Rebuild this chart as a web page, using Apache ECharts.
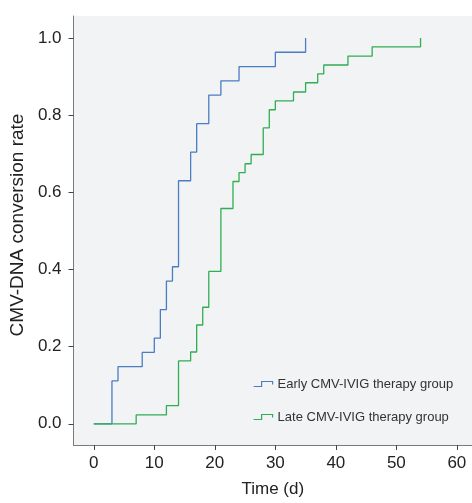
<!DOCTYPE html>
<html>
<head>
<meta charset="utf-8">
<script src="https://cdn.jsdelivr.net/npm/echarts@6/dist/echarts.min.js"></script>
<style>
  html, body { margin: 0; padding: 0; background: #fff; }
  #chart { width: 472px; height: 503px; }
</style>
</head>
<body>
<div id="chart"></div>
<script>
// step points (time in days, conversion rate)
const earlyTime = [0, 3, 4, 8, 10, 11, 12, 13, 14, 16, 17, 19, 21, 24, 30, 35];
const earlyRate = [0, 0.111, 0.148, 0.185, 0.222, 0.296, 0.370, 0.407, 0.630, 0.704, 0.778, 0.852, 0.889, 0.926, 0.963, 1.0];

const lateTime = [0, 7, 12, 14, 16, 17, 18, 19, 21, 23, 24, 25, 26, 28, 29, 30, 33, 35, 37, 38, 42, 46, 54];
const lateRate = [0, 0.023, 0.047, 0.163, 0.186, 0.256, 0.302, 0.395, 0.558, 0.628, 0.651, 0.674, 0.698, 0.767, 0.814, 0.837, 0.860, 0.884, 0.907, 0.930, 0.953, 0.977, 1.0];

const xTicks = [0, 10, 20, 30, 40, 50, 60];
const yTicks = [0, 0.2, 0.4, 0.6, 0.8, 1.0];

const seriesNames = ['Early CMV-IVIG therapy group', 'Late CMV-IVIG therapy group'];

const blue = '#4a7dc2';
const green = '#2fae52';

const chart = echarts.init(document.getElementById('chart'));

const stepIcon = 'path://M0,5 L8,5 L8,0 L19,0 L19,3';

const option = {
  animation: false,
  textStyle: { fontFamily: 'Liberation Sans, Arial, sans-serif' },
  grid: {
    left: 72, right: 0, top: 16, bottom: 53,
    show: true,
    backgroundColor: '#f2f3f5',
    borderWidth: 0
  },
  legend: {
    orient: 'vertical',
    left: 248,
    top: 372,
    itemWidth: 19,
    itemHeight: 5,
    itemGap: 19,
    textStyle: { fontSize: 13, color: '#333', lineHeight: 14 },
    data: [
      { name: seriesNames[0], icon: stepIcon, itemStyle: { color: 'transparent', borderColor: blue, borderWidth: 1.2 } },
      { name: seriesNames[1], icon: stepIcon, itemStyle: { color: 'transparent', borderColor: green, borderWidth: 1.2 } }
    ]
  },
  xAxis: {
    type: 'value',
    min: -3.35,
    max: 62.5,
    name: 'Time (d)',
    nameLocation: 'middle',
    nameGap: 36,
    nameTextStyle: { fontSize: 17, color: '#222' },
    axisLine: { onZero: false, lineStyle: { color: '#7a7a7a', width: 1 } },
    axisTick: { show: true, length: 5, customValues: xTicks, lineStyle: { color: '#444' } },
    axisLabel: { customValues: xTicks, fontSize: 17, color: '#222', margin: 10 },
    splitLine: { show: false }
  },
  yAxis: {
    type: 'value',
    min: -0.055,
    max: 1.057,
    name: 'CMV-DNA conversion rate',
    nameLocation: 'middle',
    nameGap: 42,
    nameTextStyle: { fontSize: 19, color: '#222', padding: [0, 0, 0, 11] },
    axisLine: { show: true, onZero: false, lineStyle: { color: '#7a7a7a', width: 1 } },
    axisTick: { show: true, length: 5, customValues: yTicks, lineStyle: { color: '#444' } },
    axisLabel: {
      customValues: yTicks, fontSize: 17, color: '#222', margin: 12,
      formatter: v => v.toFixed(1)
    },
    splitLine: { show: false }
  },
  series: [
    {
      name: seriesNames[0],
      type: 'line',
      step: 'end',
      showSymbol: false,
      color: blue,
      lineStyle: { width: 1.3, color: blue },
      data: earlyTime.map((t, i) => [t, earlyRate[i]])
    },
    {
      name: seriesNames[1],
      type: 'line',
      step: 'end',
      showSymbol: false,
      color: green,
      lineStyle: { width: 1.3, color: green },
      data: lateTime.map((t, i) => [t, lateRate[i]])
    }
  ]
};

chart.setOption(option);
</script>
</body>
</html>
